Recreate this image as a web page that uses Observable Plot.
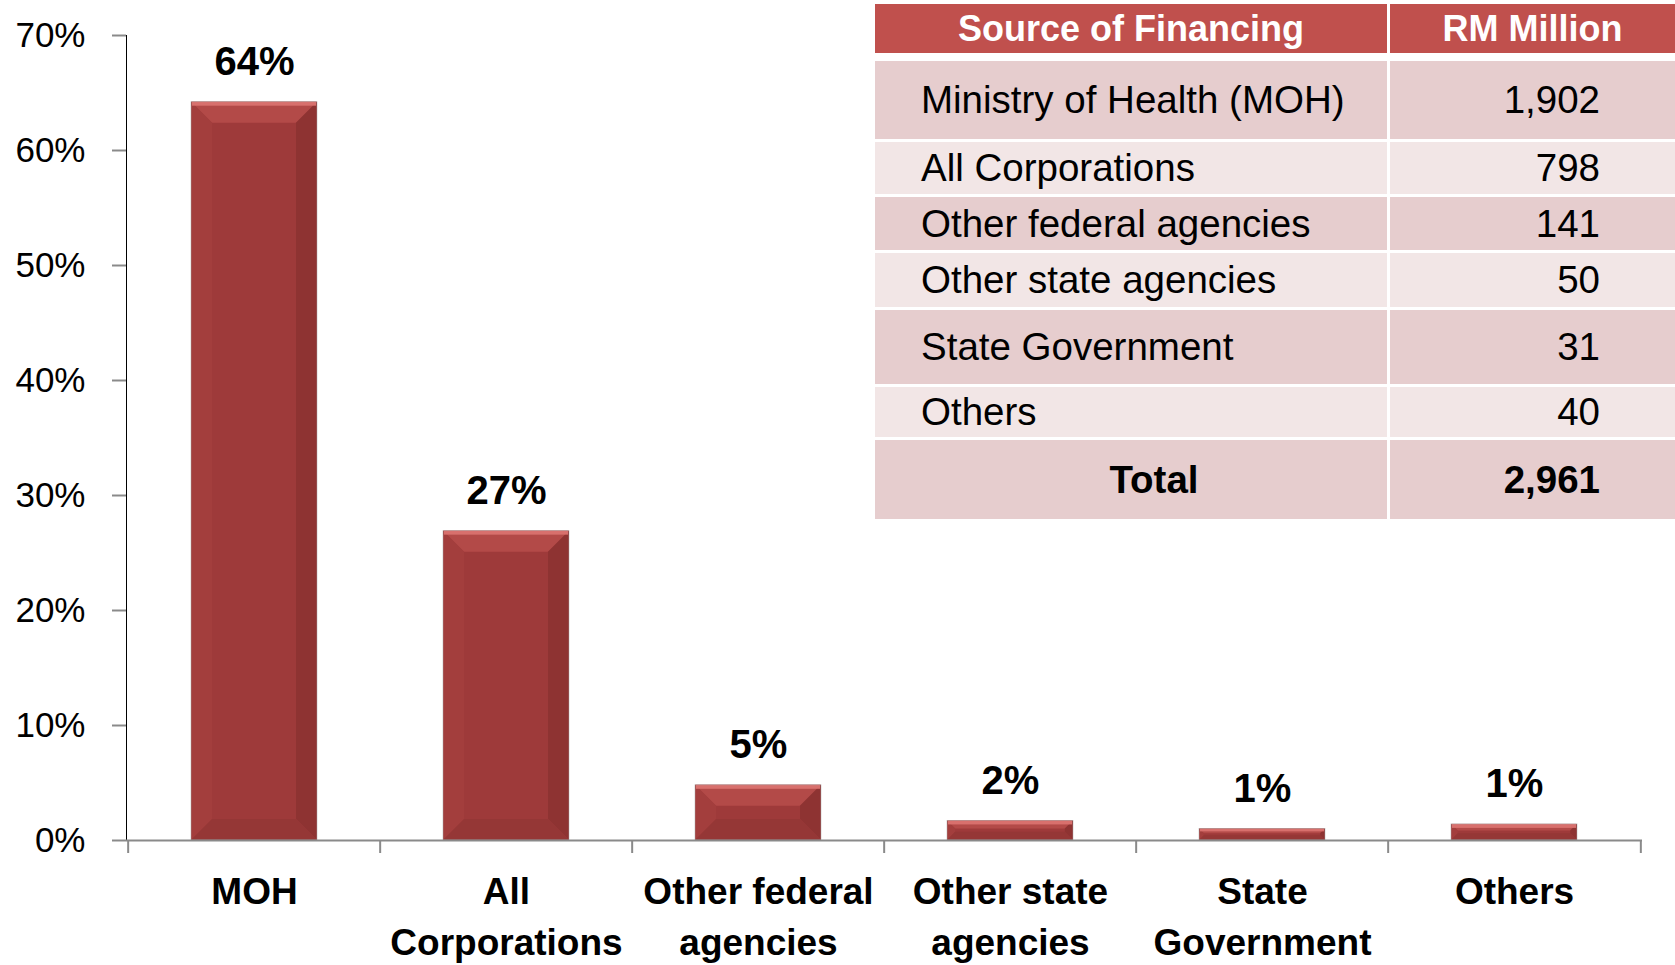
<!DOCTYPE html>
<html><head><meta charset="utf-8">
<script src="https://cdn.jsdelivr.net/npm/d3@7"></script>
<script src="https://cdn.jsdelivr.net/npm/@observablehq/plot@0.6"></script>
<style>
html,body{margin:0;padding:0;background:#fff;}
#wrap{position:relative;width:1675px;height:965px;font-family:"Liberation Sans",Arial,sans-serif;overflow:hidden;}
#wrap svg{position:absolute;left:0;top:0;}
[aria-label^="y-axis"] path,[aria-label^="y-axis"] line{stroke:#8a8a8a;stroke-width:2px;}
#tbl{position:absolute;left:875px;top:4px;width:800px;}
.cell{position:absolute;box-sizing:border-box;display:flex;align-items:center;color:#000;font-size:38.5px;white-space:nowrap;}
</style></head><body><div id="wrap"></div>
<script>
// ---- data ----
const categories = ["MOH","All Corporations","Other federal agencies","Other state agencies","State Government","Others"];
const xLabels = ["MOH","All\nCorporations","Other federal\nagencies","Other state\nagencies","State\nGovernment","Others"];
const shares = [64.2, 26.9, 4.8, 1.7, 1.0, 1.4];
const shareLabels = ["64%","27%","5%","2%","1%","1%"];
const yTicks = [0,10,20,30,40,50,60,70];
const tableHeaders = ["Source of Financing","RM Million"];
const tableSources = ["Ministry of Health (MOH)","All Corporations","Other federal agencies","Other state agencies","State Government","Others"];
const tableValues = ["1,902","798","141","50","31","40"];
const totalLabel = "Total";
const totalValue = "2,961";

// ---- layout ----
const W=1675,H=965,mL=126,mR=33,mT=35,mB=125;
const step=(W-mL-mR)/categories.length;
const axisGray="#8a8a8a";
const font="'Liberation Sans',Arial,sans-serif";

const data = categories.map((c,i)=>({cat:c,label:xLabels[i],v:shares[i],t:shareLabels[i]}));

const plot = Plot.plot({
  width:W,height:H,marginLeft:mL,marginRight:mR,marginTop:mT,marginBottom:mB,
  style:{fontFamily:font,fontSize:"35px",color:"#000",background:"transparent",overflow:"visible"},
  x:{domain:categories,paddingInner:0.5,paddingOuter:0.25,axis:null},
  y:{domain:[0,70],ticks:yTicks,tickFormat:d=>d+"%",tickSize:14,tickPadding:27,line:true,label:null},
  marks:[
    Plot.barY(data,{x:"cat",y:"v",fill:"#9e3a3a"}),
    Plot.ruleY([0],{stroke:axisGray,strokeWidth:2}),
    Plot.ruleX(categories,{x:d=>d,y1:0,y2:0,dx:-step/2,insetBottom:-13,stroke:axisGray,strokeWidth:2}),
    Plot.ruleX([categories[categories.length-1]],{x:d=>d,y1:0,y2:0,dx:step/2,insetBottom:-13,stroke:axisGray,strokeWidth:2}),
    Plot.text(data,{x:"cat",y:"v",text:"t",dy:-40,fontSize:40,fontWeight:"bold",fill:"#000"}),
    Plot.text(data,{x:"cat",y:()=>0,text:"label",dy:27,lineAnchor:"top",lineHeight:1.38,fontSize:37,fontWeight:"bold",fill:"#000"})
  ]
});
document.getElementById("wrap").appendChild(plot);

// bevel effect on bars (derived from rendered bar geometry)
const NS="http://www.w3.org/2000/svg";
const barG = plot.querySelector('g[aria-label="bar"]');
if (barG) {
  barG.querySelectorAll("rect").forEach(r=>{
    const x=+r.getAttribute("x"),y=+r.getAttribute("y"),w=+r.getAttribute("width"),h=+r.getAttribute("height");
    const b=Math.min(21,h/2.4,w/2);
    const polys=[
      [[x,y],[x+w,y],[x+w-b,y+b],[x+b,y+b],"#b34a48"],
      [[x+w,y],[x+w,y+h],[x+w-b,y+h-b],[x+w-b,y+b],"#8e3332"],
      [[x,y],[x+b,y+b],[x+b,y+h-b],[x,y+h],"#a33e3d"],
      [[x,y+h],[x+b,y+h-b],[x+w-b,y+h-b],[x+w,y+h],"#953736"]
    ];
    polys.forEach(p=>{
      const el=document.createElementNS(NS,"polygon");
      el.setAttribute("points",p.slice(0,4).map(q=>q.join(",")).join(" "));
      el.setAttribute("fill",p[4]);
      barG.appendChild(el);
    });
    const hl=document.createElementNS(NS,"rect");
    hl.setAttribute("x",x+1);hl.setAttribute("y",y);hl.setAttribute("width",w-2);hl.setAttribute("height",Math.min(4,h/4));
    hl.setAttribute("fill","#d8706d");
    barG.appendChild(hl);
    const ol=document.createElementNS(NS,"rect");
    ol.setAttribute("x",x);ol.setAttribute("y",y);ol.setAttribute("width",w);ol.setAttribute("height",h);
    ol.setAttribute("fill","none");ol.setAttribute("stroke","#a9a9a9");ol.setAttribute("stroke-width","0.8");ol.setAttribute("stroke-opacity","0.6");
    barG.appendChild(ol);
  });
}

// ---- table overlay ----
const tbl=document.createElement("div");tbl.id="tbl";
document.getElementById("wrap").appendChild(tbl);
const col1W=512,gap=3,col2X=col1W+gap,col2W=800-col2X;
const headerH=49,headerGap=8,rowGap=3;
const rowHeights=[78,52,53,54,74,50],totalH=79;
const darkBg="#e6cdce",lightBg="#f2e6e6",headBg="#c0504d";
function cell(x,y,w,h,bg,text,opts){
  const d=document.createElement("div");d.className="cell";
  Object.assign(d.style,{left:x+"px",top:y+"px",width:w+"px",height:h+"px",background:bg});
  Object.assign(d.style,opts||{});
  d.textContent=text;tbl.appendChild(d);
}
cell(0,0,col1W,headerH,headBg,tableHeaders[0],{justifyContent:"center",color:"#fff",fontWeight:"bold",fontSize:"36px"});
cell(col2X,0,col2W,headerH,headBg,tableHeaders[1],{justifyContent:"center",color:"#fff",fontWeight:"bold",fontSize:"36px"});
let yy=headerH+headerGap;
tableSources.forEach((s,i)=>{
  const bg=i%2===0?darkBg:lightBg;
  cell(0,yy,col1W,rowHeights[i],bg,s,{paddingLeft:"46px"});
  cell(col2X,yy,col2W,rowHeights[i],bg,tableValues[i],{justifyContent:"flex-end",paddingRight:"75px"});
  yy+=rowHeights[i]+rowGap;
});
cell(0,yy,col1W,totalH,darkBg,totalLabel,{justifyContent:"center",paddingLeft:"46px",fontWeight:"bold"});
cell(col2X,yy,col2W,totalH,darkBg,totalValue,{justifyContent:"flex-end",paddingRight:"75px",fontWeight:"bold"});
</script>
</body></html>
